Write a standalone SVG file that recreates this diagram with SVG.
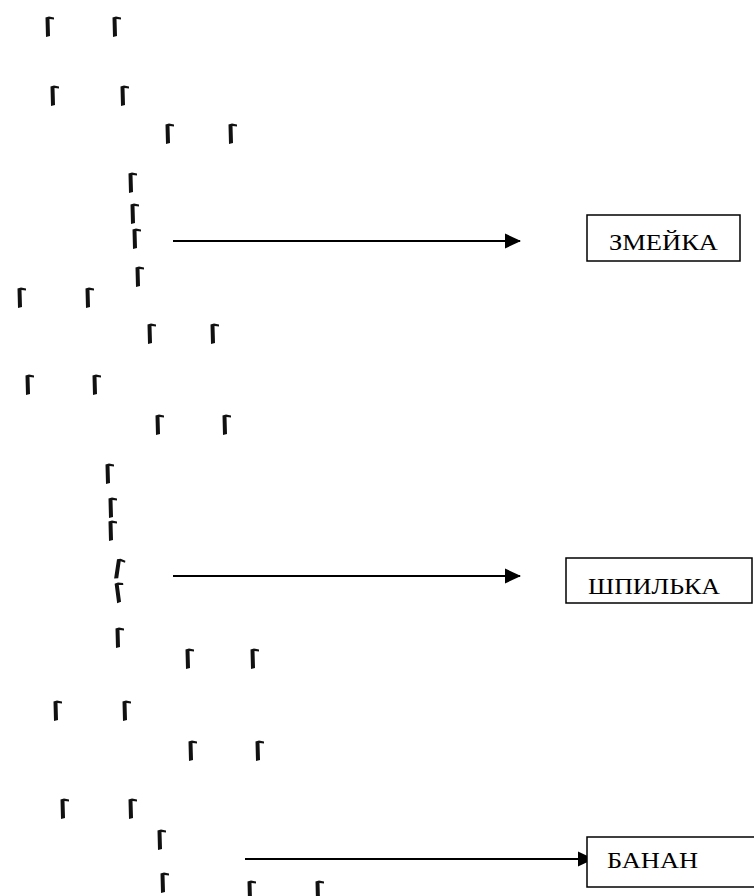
<svg xmlns="http://www.w3.org/2000/svg" xmlns:xlink="http://www.w3.org/1999/xlink" width="754" height="896" viewBox="0 0 754 896">
<style>
.conn{stroke:#000;stroke-width:2.2;fill:none}
.box{fill:#fff;stroke:#000;stroke-width:1.5}
.lbl{font-family:"Liberation Serif","Times New Roman",serif;font-size:24px;fill:#000}
</style>
<defs>
<path id="m" d="M0.5,1.5 L4,0.5 L9,1.5 L9,3.5 L4.5,3 L5,20 L1,21 Z" fill="#111"/>
<marker id="ah" markerWidth="16" markerHeight="16" refX="15" refY="8" orient="auto" markerUnits="userSpaceOnUse">
<path d="M0,0.5 L16,8 L0,15.5 Z" fill="#000"/>
</marker>
</defs>
<rect width="754" height="896" fill="#fff"/>
<g id="marks">
<use xlink:href="#m" x="45" y="16"/>
<use xlink:href="#m" x="112" y="16"/>
<use xlink:href="#m" x="50" y="85"/>
<use xlink:href="#m" x="120" y="85"/>
<use xlink:href="#m" x="165" y="123"/>
<use xlink:href="#m" x="228" y="123"/>
<use xlink:href="#m" x="128" y="172"/>
<use xlink:href="#m" x="130" y="203"/>
<use xlink:href="#m" x="132" y="228"/>
<use xlink:href="#m" x="135" y="266"/>
<use xlink:href="#m" x="17" y="287"/>
<use xlink:href="#m" x="85" y="287"/>
<use xlink:href="#m" x="147" y="323"/>
<use xlink:href="#m" x="210" y="323"/>
<use xlink:href="#m" x="25" y="374"/>
<use xlink:href="#m" x="92" y="374"/>
<use xlink:href="#m" x="155" y="414"/>
<use xlink:href="#m" x="222" y="414"/>
<use xlink:href="#m" x="105" y="463"/>
<use xlink:href="#m" x="108" y="497"/>
<use xlink:href="#m" x="108" y="520"/>
<use xlink:href="#m" x="115" y="558" transform="rotate(10 118 568)"/>
<use xlink:href="#m" x="115" y="582" transform="rotate(-6 118 592)"/>
<use xlink:href="#m" x="115" y="627"/>
<use xlink:href="#m" x="185" y="648"/>
<use xlink:href="#m" x="250" y="648"/>
<use xlink:href="#m" x="53" y="700"/>
<use xlink:href="#m" x="122" y="700"/>
<use xlink:href="#m" x="188" y="740"/>
<use xlink:href="#m" x="255" y="740"/>
<use xlink:href="#m" x="60" y="798"/>
<use xlink:href="#m" x="128" y="798"/>
<use xlink:href="#m" x="157" y="829"/>
<use xlink:href="#m" x="160" y="872"/>
<use xlink:href="#m" x="247" y="880"/>
<use xlink:href="#m" x="315" y="880"/>
</g>
<g id="connectors">
<line class="conn" x1="173" y1="241" x2="520" y2="241" marker-end="url(#ah)"/>
<line class="conn" x1="173" y1="576" x2="520" y2="576" marker-end="url(#ah)"/>
<line class="conn" x1="245" y1="859" x2="593" y2="859" marker-end="url(#ah)"/>
</g>
<g id="node-zmeika">
<rect class="box" x="587" y="215" width="153" height="46"/>
<text class="lbl" x="609" y="250" textLength="109" lengthAdjust="spacingAndGlyphs">ЗМЕЙКА</text>
</g>
<g id="node-shpilka">
<rect class="box" x="566" y="558" width="186" height="45"/>
<text class="lbl" x="588" y="594" textLength="132" lengthAdjust="spacingAndGlyphs">ШПИЛЬКА</text>
</g>
<g id="node-banan">
<rect class="box" x="587" y="837" width="180" height="50"/>
<text class="lbl" x="607" y="868" textLength="91" lengthAdjust="spacingAndGlyphs">БАНАН</text>
</g>
</svg>
